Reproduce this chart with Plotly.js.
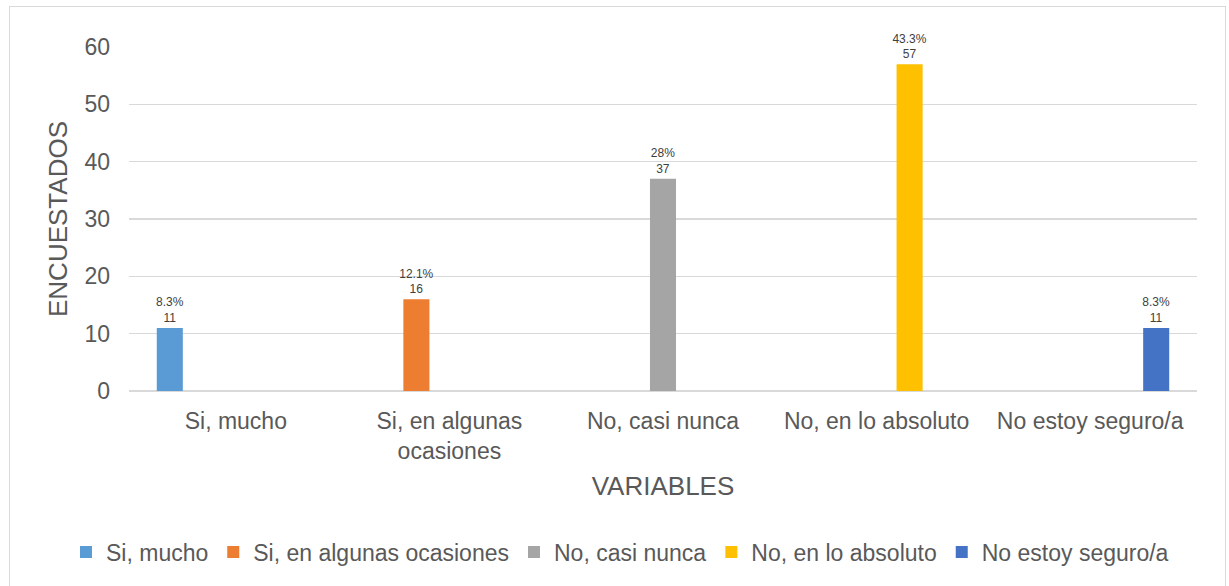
<!DOCTYPE html>
<html>
<head>
<meta charset="utf-8">
<script src="https://cdn.plot.ly/plotly-3.0.1.min.js"></script>
<style>
  html, body { margin: 0; padding: 0; background: #fff; }
  #wrap { position: relative; width: 1229px; height: 586px; }
  #chart { position: absolute; left: 0; top: 0; width: 1229px; height: 586px; }
  #frame { position: absolute; left: 9px; top: 6px; width: 1217px; height: 590px;
           border: 1.5px solid #d9d9d9; pointer-events: none; box-sizing: border-box; }
</style>
</head>
<body>
<div id="wrap">
  <div id="chart"></div>
  <div id="frame"></div>
</div>
<script>
// ---- data ----
const categories = ['Si, mucho', 'Si, en algunas ocasiones', 'No, casi nunca', 'No, en lo absoluto', 'No estoy seguro/a'];
const tickLabels = ['Si, mucho', 'Si, en algunas<br>ocasiones', 'No, casi nunca', 'No, en lo absoluto', 'No estoy seguro/a'];
const counts = [11, 16, 37, 57, 11];
const percents = ['8.3%', '12.1%', '28%', '43.3%', '8.3%'];
const yTicks = [0, 10, 20, 30, 40, 50, 60];

// ---- style ----
const colors = ['#5b9bd5', '#ed7d31', '#a5a5a5', '#ffc000', '#4472c4'];
const FONT = 'Liberation Sans, Arial, sans-serif';
const TXT = '#595959';
const BAR_W = 0.122;   // bar width in category units
const SLOT = 0.1545;   // distance between bar slots within a category group

const traces = categories.map((c, i) => ({
  type: 'bar',
  name: c,
  x: [c],
  y: [counts[i]],
  width: BAR_W,
  offset: (i - (categories.length - 1) / 2) * SLOT - BAR_W / 2,
  text: [percents[i] + '<br>' + counts[i]],
  textposition: 'outside',
  constraintext: 'none',
  textfont: { family: FONT, size: 12, color: '#404040' },
  cliponaxis: false,
  marker: { color: colors[i] },
  hoverinfo: 'x+y'
}));

const layout = {
  width: 1229,
  height: 586,
  margin: { l: 129, r: 32, t: 47, b: 195 },
  paper_bgcolor: 'rgba(0,0,0,0)',
  plot_bgcolor: 'rgba(0,0,0,0)',
  barmode: 'overlay',
  font: { family: FONT, color: TXT },
  xaxis: {
    type: 'category',
    categoryarray: categories,
    tickvals: categories,
    ticktext: tickLabels,
    tickfont: { family: FONT, size: 23, color: TXT },
    ticks: '',
    ticklabelstandoff: 14,
    showgrid: false,
    showline: false,
    zeroline: false,
    title: { text: 'VARIABLES', font: { family: FONT, size: 26, color: TXT }, standoff: 13 },
    fixedrange: true
  },
  yaxis: {
    range: [0, 60],
    tickvals: yTicks,
    tickfont: { family: FONT, size: 23, color: TXT },
    ticks: '',
    ticklabelstandoff: 18,
    showgrid: true,
    gridcolor: '#d9d9d9',
    gridwidth: 1.5,
    zeroline: true,
    zerolinecolor: '#d9d9d9',
    zerolinewidth: 1.5,
    showline: false,
    title: { text: 'ENCUESTADOS', font: { family: FONT, size: 26, color: TXT }, standoff: 9 },
    fixedrange: true
  },
  showlegend: true,
  legend: {
    orientation: 'h',
    x: -0.059,
    xanchor: 'left',
    y: -0.468,
    yanchor: 'middle',
    font: { family: FONT, size: 23, color: TXT },
    traceorder: 'normal',
    itemclick: false,
    itemdoubleclick: false
  }
};

Plotly.newPlot('chart', traces, layout, { displayModeBar: false, staticPlot: true });
</script>
</body>
</html>
